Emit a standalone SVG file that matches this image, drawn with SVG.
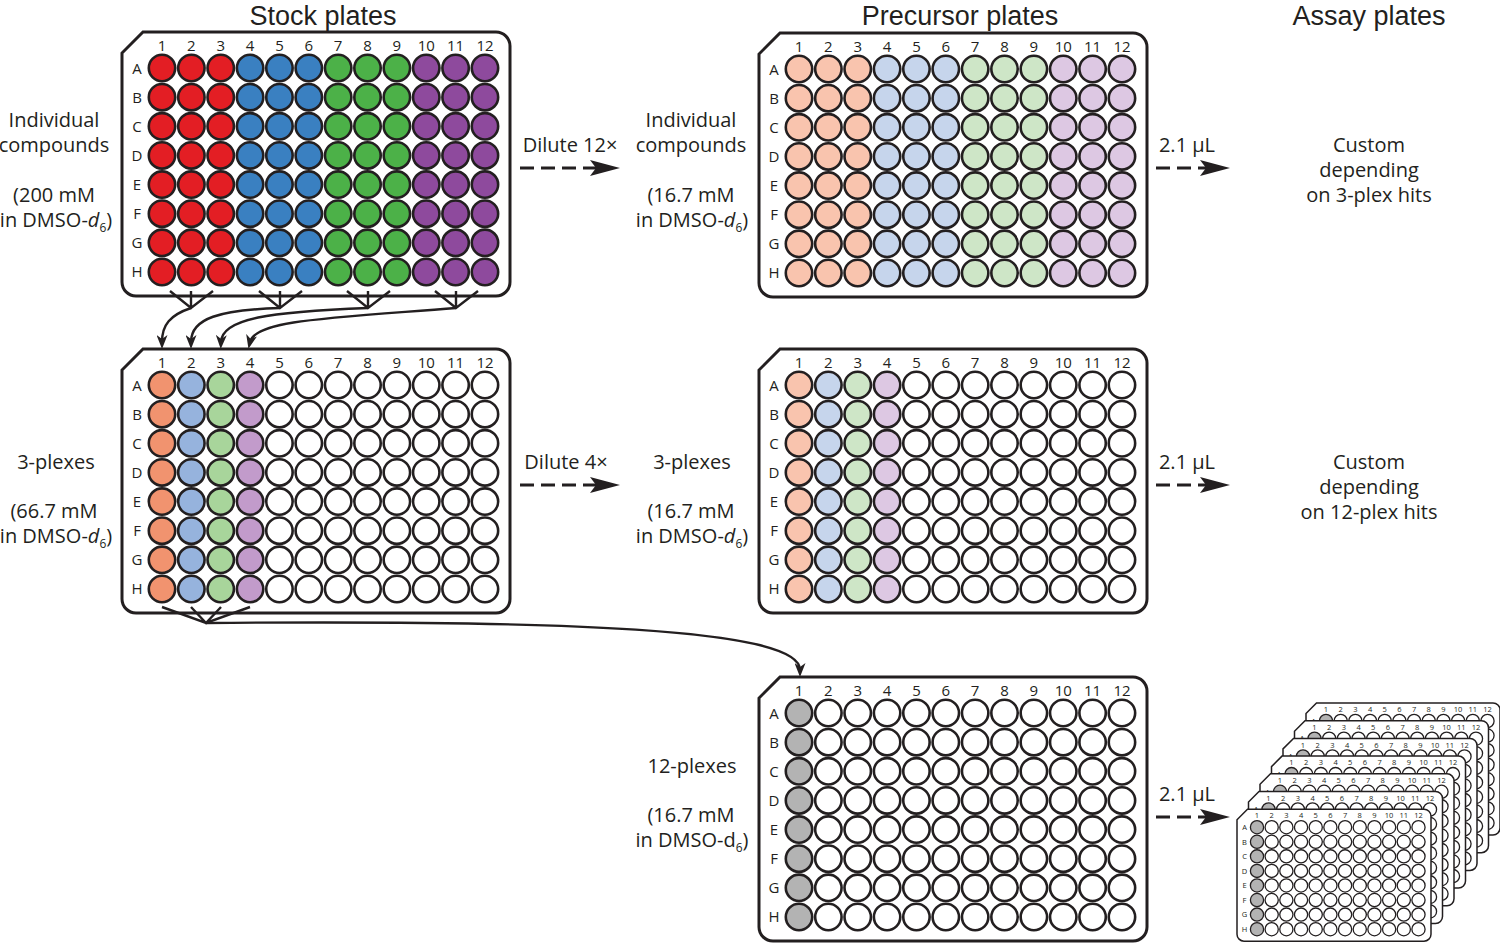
<svg xmlns="http://www.w3.org/2000/svg" xmlns:xlink="http://www.w3.org/1999/xlink" width="1500" height="943" viewBox="0 0 1500 943">
<style>
.t{font-family:"Open Sans","Liberation Sans",sans-serif;fill:#231F20;text-anchor:middle}
.lbl{font-size:20px}
.ttl{font-family:"Liberation Sans",Arial,sans-serif;font-size:27px}
.pn{font-family:"Open Sans","Liberation Sans",sans-serif;font-size:15px;fill:#231F20;text-anchor:middle}
.well{stroke:#231F20;stroke-width:2.6}
.outline{fill:#fff;stroke:#231F20;stroke-width:3}
.conn{fill:none;stroke:#231F20;stroke-width:2.4}
.dash{fill:none;stroke:#231F20;stroke-width:3;stroke-dasharray:14 7}
</style>
<defs>
<marker id="ah" markerUnits="userSpaceOnUse" markerWidth="30" markerHeight="16" viewBox="0 0 30 16" refX="8" refY="8" orient="auto">
<path d="M0,0 L30,8 L0,16 L6,8 Z" fill="#231F20"/>
</marker>
<marker id="sa" markerUnits="userSpaceOnUse" markerWidth="14" markerHeight="11" viewBox="0 0 14 11" refX="7" refY="5.5" orient="auto">
<path d="M0,0 L14,5.5 L0,11 L4,5.5 Z" fill="#231F20"/>
</marker>
<g id="frame">
<path class="outline" d="M21,0 H374 A14,14 0 0 1 388,14 V250 A14,14 0 0 1 374,264 H14 A14,14 0 0 1 0,250 V21 Z"/>
<text class="pn" y="18.5"><tspan x="40">1</tspan><tspan x="69.36">2</tspan><tspan x="98.72">3</tspan><tspan x="128.08">4</tspan><tspan x="157.44">5</tspan><tspan x="186.8">6</tspan><tspan x="216.16">7</tspan><tspan x="245.52">8</tspan><tspan x="274.88">9</tspan><tspan x="304.24">10</tspan><tspan x="333.6">11</tspan><tspan x="362.96">12</tspan></text>
<text class="pn" x="15" y="41.5">A</text>
<text class="pn" x="15" y="70.64">B</text>
<text class="pn" x="15" y="99.78">C</text>
<text class="pn" x="15" y="128.92">D</text>
<text class="pn" x="15" y="158.06">E</text>
<text class="pn" x="15" y="187.2">F</text>
<text class="pn" x="15" y="216.34">G</text>
<text class="pn" x="15" y="245.48">H</text>
</g>
<g id="wcol" class="well">
<circle cx="0" cy="36" r="13.2"/>
<circle cx="0" cy="65.14" r="13.2"/>
<circle cx="0" cy="94.28" r="13.2"/>
<circle cx="0" cy="123.42" r="13.2"/>
<circle cx="0" cy="152.56" r="13.2"/>
<circle cx="0" cy="181.7" r="13.2"/>
<circle cx="0" cy="210.84" r="13.2"/>
<circle cx="0" cy="239.98" r="13.2"/>
</g>
<g id="assay">
<use xlink:href="#frame"/>
<use xlink:href="#wcol" x="40" fill="#B3B3B3"/>
<use xlink:href="#wcol" x="69.36" fill="#fff"/>
<use xlink:href="#wcol" x="98.72" fill="#fff"/>
<use xlink:href="#wcol" x="128.08" fill="#fff"/>
<use xlink:href="#wcol" x="157.44" fill="#fff"/>
<use xlink:href="#wcol" x="186.8" fill="#fff"/>
<use xlink:href="#wcol" x="216.16" fill="#fff"/>
<use xlink:href="#wcol" x="245.52" fill="#fff"/>
<use xlink:href="#wcol" x="274.88" fill="#fff"/>
<use xlink:href="#wcol" x="304.24" fill="#fff"/>
<use xlink:href="#wcol" x="333.6" fill="#fff"/>
<use xlink:href="#wcol" x="362.96" fill="#fff"/>
</g>
</defs>

<g id="titles">
<text class="t ttl" x="323" y="25">Stock plates</text>
<text class="t ttl" x="960" y="25">Precursor plates</text>
<text class="t ttl" x="1369" y="25">Assay plates</text>
</g>

<g id="stock-individual" transform="translate(122,32)">
<use xlink:href="#frame"/>
<use xlink:href="#wcol" x="40" fill="#E31E24"/>
<use xlink:href="#wcol" x="69.36" fill="#E31E24"/>
<use xlink:href="#wcol" x="98.72" fill="#E31E24"/>
<use xlink:href="#wcol" x="128.08" fill="#3A80C1"/>
<use xlink:href="#wcol" x="157.44" fill="#3A80C1"/>
<use xlink:href="#wcol" x="186.8" fill="#3A80C1"/>
<use xlink:href="#wcol" x="216.16" fill="#4CB148"/>
<use xlink:href="#wcol" x="245.52" fill="#4CB148"/>
<use xlink:href="#wcol" x="274.88" fill="#4CB148"/>
<use xlink:href="#wcol" x="304.24" fill="#8E4A9D"/>
<use xlink:href="#wcol" x="333.6" fill="#8E4A9D"/>
<use xlink:href="#wcol" x="362.96" fill="#8E4A9D"/>
</g>

<g id="stock-3plex" transform="translate(122,349)">
<use xlink:href="#frame"/>
<use xlink:href="#wcol" x="40" fill="#F1936F"/>
<use xlink:href="#wcol" x="69.36" fill="#96B3DD"/>
<use xlink:href="#wcol" x="98.72" fill="#A8D59B"/>
<use xlink:href="#wcol" x="128.08" fill="#C29BCB"/>
<use xlink:href="#wcol" x="157.44" fill="#fff"/>
<use xlink:href="#wcol" x="186.8" fill="#fff"/>
<use xlink:href="#wcol" x="216.16" fill="#fff"/>
<use xlink:href="#wcol" x="245.52" fill="#fff"/>
<use xlink:href="#wcol" x="274.88" fill="#fff"/>
<use xlink:href="#wcol" x="304.24" fill="#fff"/>
<use xlink:href="#wcol" x="333.6" fill="#fff"/>
<use xlink:href="#wcol" x="362.96" fill="#fff"/>
</g>

<g id="precursor-individual" transform="translate(759,33)">
<use xlink:href="#frame"/>
<use xlink:href="#wcol" x="40" fill="#F9C4AE"/>
<use xlink:href="#wcol" x="69.36" fill="#F9C4AE"/>
<use xlink:href="#wcol" x="98.72" fill="#F9C4AE"/>
<use xlink:href="#wcol" x="128.08" fill="#C6D5EC"/>
<use xlink:href="#wcol" x="157.44" fill="#C6D5EC"/>
<use xlink:href="#wcol" x="186.8" fill="#C6D5EC"/>
<use xlink:href="#wcol" x="216.16" fill="#CEE6C7"/>
<use xlink:href="#wcol" x="245.52" fill="#CEE6C7"/>
<use xlink:href="#wcol" x="274.88" fill="#CEE6C7"/>
<use xlink:href="#wcol" x="304.24" fill="#DDC8E3"/>
<use xlink:href="#wcol" x="333.6" fill="#DDC8E3"/>
<use xlink:href="#wcol" x="362.96" fill="#DDC8E3"/>
</g>

<g id="precursor-3plex" transform="translate(759,349)">
<use xlink:href="#frame"/>
<use xlink:href="#wcol" x="40" fill="#F9C4AE"/>
<use xlink:href="#wcol" x="69.36" fill="#C6D5EC"/>
<use xlink:href="#wcol" x="98.72" fill="#CEE6C7"/>
<use xlink:href="#wcol" x="128.08" fill="#DDC8E3"/>
<use xlink:href="#wcol" x="157.44" fill="#fff"/>
<use xlink:href="#wcol" x="186.8" fill="#fff"/>
<use xlink:href="#wcol" x="216.16" fill="#fff"/>
<use xlink:href="#wcol" x="245.52" fill="#fff"/>
<use xlink:href="#wcol" x="274.88" fill="#fff"/>
<use xlink:href="#wcol" x="304.24" fill="#fff"/>
<use xlink:href="#wcol" x="333.6" fill="#fff"/>
<use xlink:href="#wcol" x="362.96" fill="#fff"/>
</g>

<g id="precursor-12plex" transform="translate(759,677)">
<use xlink:href="#assay"/>
</g>

<g id="assay-stack">
<use xlink:href="#assay" transform="translate(1306,703) scale(0.5)"/>
<use xlink:href="#assay" transform="translate(1294.5,720.7) scale(0.5)"/>
<use xlink:href="#assay" transform="translate(1283,738.4) scale(0.5)"/>
<use xlink:href="#assay" transform="translate(1271.5,756.1) scale(0.5)"/>
<use xlink:href="#assay" transform="translate(1260,773.8) scale(0.5)"/>
<use xlink:href="#assay" transform="translate(1248.5,791.5) scale(0.5)"/>
<use xlink:href="#assay" transform="translate(1237,809.2) scale(0.5)"/>
</g>

<g id="labels">
<text class="t lbl" x="54" y="127">Individual</text>
<text class="t lbl" x="54" y="152">compounds</text>
<text class="t lbl" x="54" y="202">(200 mM</text>
<text class="t lbl" x="56" y="227">in DMSO-<tspan font-style="italic">d</tspan><tspan font-size="12" dy="5">6</tspan><tspan dy="-5">)</tspan></text>

<text class="t lbl" x="570" y="152">Dilute 12×</text>
<text class="t lbl" x="691" y="127">Individual</text>
<text class="t lbl" x="691" y="152">compounds</text>
<text class="t lbl" x="691" y="202">(16.7 mM</text>
<text class="t lbl" x="692" y="227">in DMSO-<tspan font-style="italic">d</tspan><tspan font-size="12" dy="5">6</tspan><tspan dy="-5">)</tspan></text>

<text class="t lbl" x="1187" y="152">2.1 µL</text>
<text class="t lbl" x="1369" y="152">Custom</text>
<text class="t lbl" x="1369" y="177">depending</text>
<text class="t lbl" x="1369" y="202">on 3-plex hits</text>

<text class="t lbl" x="56" y="469">3-plexes</text>
<text class="t lbl" x="54" y="518">(66.7 mM</text>
<text class="t lbl" x="56" y="543">in DMSO-<tspan font-style="italic">d</tspan><tspan font-size="12" dy="5">6</tspan><tspan dy="-5">)</tspan></text>

<text class="t lbl" x="566" y="469">Dilute 4×</text>
<text class="t lbl" x="692" y="469">3-plexes</text>
<text class="t lbl" x="691" y="518">(16.7 mM</text>
<text class="t lbl" x="692" y="543">in DMSO-<tspan font-style="italic">d</tspan><tspan font-size="12" dy="5">6</tspan><tspan dy="-5">)</tspan></text>

<text class="t lbl" x="1187" y="469">2.1 µL</text>
<text class="t lbl" x="1369" y="469">Custom</text>
<text class="t lbl" x="1369" y="494">depending</text>
<text class="t lbl" x="1369" y="519">on 12-plex hits</text>

<text class="t lbl" x="692" y="773">12-plexes</text>
<text class="t lbl" x="691" y="822">(16.7 mM</text>
<text class="t lbl" x="692" y="847">in DMSO-d<tspan font-size="12" dy="5">6</tspan><tspan dy="-5">)</tspan></text>

<text class="t lbl" x="1187" y="801">2.1 µL</text>
</g>

<g id="connectors">
<path class="conn" d="M170,291 L191,308 L213,291 M191,291 V308"/>
<path class="conn" d="M259,291 L280,308 L302,291 M280,291 V308"/>
<path class="conn" d="M347,291 L368,308 L390,291 M368,291 V308"/>
<path class="conn" d="M435,291 L456,308 L478,291 M456,291 V308"/>
<path class="conn" d="M191,308 C170,315 162,325 162,342" marker-end="url(#sa)"/>
<path class="conn" d="M280,308 C220,310 191,318 191,342" marker-end="url(#sa)"/>
<path class="conn" d="M368,308 C270,312 222,318 221,342" marker-end="url(#sa)"/>
<path class="conn" d="M456,308 C330,318 255,320 250,342" marker-end="url(#sa)"/>
<path class="conn" d="M162,607 L206,623 L250,607 M191,607 L206,623 L221,607"/>
<path class="conn" d="M206,623 C560,620 800,628 800,670" marker-end="url(#sa)"/>
<path class="dash" d="M520,168 H598" marker-end="url(#ah)"/>
<path class="dash" d="M1156,168 H1208" marker-end="url(#ah)"/>
<path class="dash" d="M520,485 H598" marker-end="url(#ah)"/>
<path class="dash" d="M1156,485 H1208" marker-end="url(#ah)"/>
<path class="dash" d="M1156,817 H1208" marker-end="url(#ah)"/>
</g>
</svg>
